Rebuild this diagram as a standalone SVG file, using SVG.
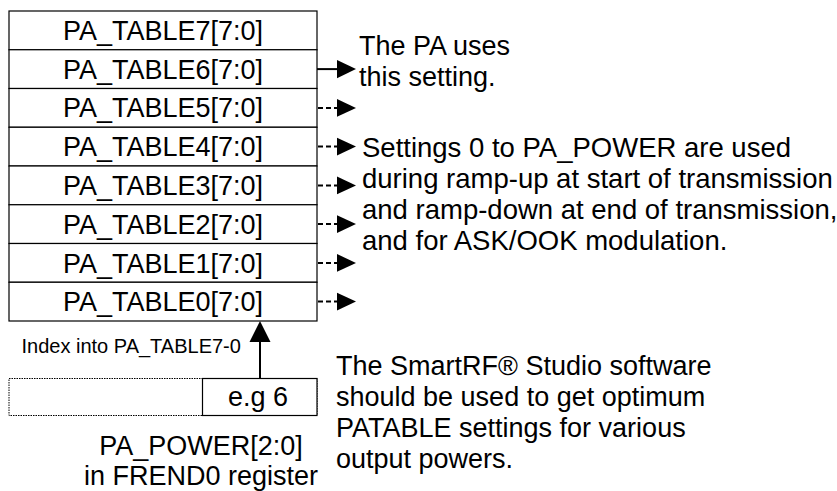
<svg xmlns="http://www.w3.org/2000/svg" width="837" height="491" viewBox="0 0 837 491">
<style>
text{font-family:"Liberation Sans",Arial,sans-serif;fill:#000}
.t{font-size:27px}
.u{font-size:27.5px}
.c{text-anchor:middle}
.s{font-size:20px}
.row{fill:#fff;stroke:#000;stroke-width:1.2}
.ar{stroke:#000;stroke-width:2;fill:none}
.da{stroke:#000;stroke-width:2;fill:none;stroke-dasharray:5 3}
.hd{fill:#000}
</style>
<rect width="837" height="491" fill="#fff"/>
<g id="table">
<g id="row7"><rect class="row" x="9" y="11" width="308" height="38.75"/><text class="t c" x="163" y="39.9">PA_TABLE7[7:0]</text></g>
<g id="row6"><rect class="row" x="9" y="49.75" width="308" height="38.75"/><text class="t c" x="163" y="78.6">PA_TABLE6[7:0]</text></g>
<g id="row5"><rect class="row" x="9" y="88.5" width="308" height="38.75"/><text class="t c" x="163" y="117.4">PA_TABLE5[7:0]</text></g>
<g id="row4"><rect class="row" x="9" y="127.25" width="308" height="38.75"/><text class="t c" x="163" y="156.2">PA_TABLE4[7:0]</text></g>
<g id="row3"><rect class="row" x="9" y="166" width="308" height="38.75"/><text class="t c" x="163" y="194.9">PA_TABLE3[7:0]</text></g>
<g id="row2"><rect class="row" x="9" y="204.75" width="308" height="38.75"/><text class="t c" x="163" y="233.7">PA_TABLE2[7:0]</text></g>
<g id="row1"><rect class="row" x="9" y="243.5" width="308" height="38.75"/><text class="t c" x="163" y="272.5">PA_TABLE1[7:0]</text></g>
<g id="row0"><rect class="row" x="9" y="282.25" width="308" height="38.75"/><text class="t c" x="163" y="311.2">PA_TABLE0[7:0]</text></g>
</g>
<g id="register">
<rect x="9" y="378.5" width="308" height="37" fill="#fff" stroke="#000" stroke-width="1" stroke-dasharray="1.5 1"/>
<rect x="202.5" y="378.5" width="114.5" height="37" fill="#fff" stroke="#000" stroke-width="1.2"/>
<text class="t c" x="258" y="406">e.g 6</text>
</g>
<g id="connectors">
<line class="ar" x1="317" y1="69.1" x2="338" y2="69.1"/>
<polygon class="hd" points="337,60 356,69.1 337,78.2"/>
<line class="da" x1="318" y1="107.9" x2="338" y2="107.9"/>
<polygon class="hd" points="337,99 356,107.9 337,116.8"/>
<line class="da" x1="318" y1="146.6" x2="338" y2="146.6"/>
<polygon class="hd" points="337,137.7 356,146.6 337,155.5"/>
<line class="da" x1="318" y1="185.4" x2="338" y2="185.4"/>
<polygon class="hd" points="337,176.5 356,185.4 337,194.3"/>
<line class="da" x1="318" y1="224.1" x2="338" y2="224.1"/>
<polygon class="hd" points="337,215.2 356,224.1 337,233"/>
<line class="da" x1="318" y1="262.9" x2="338" y2="262.9"/>
<polygon class="hd" points="337,254 356,262.9 337,271.8"/>
<line class="da" x1="318" y1="301.6" x2="338" y2="301.6"/>
<polygon class="hd" points="337,292.7 356,301.6 337,310.5"/>
<line class="ar" x1="260" y1="378" x2="260" y2="340"/>
<polygon class="hd" points="260,321 270.5,342 249.5,342"/>
</g>
<g id="labels">
<text class="s" x="21.5" y="353">Index into PA_TABLE7-0</text>
<text class="t c" x="201" y="455">PA_POWER[2:0]</text>
<text class="t c" x="201" y="485">in FREND0 register</text>
<text class="t" x="359" y="55">The PA uses</text>
<text class="t" x="359" y="86">this setting.</text>
<text class="u" x="362" y="157">Settings 0 to PA_POWER are used</text>
<text class="u" x="362" y="188">during ramp-up at start of transmission</text>
<text class="u" x="362" y="219">and ramp-down at end of transmission,</text>
<text class="u" x="362" y="250">and for ASK/OOK modulation.</text>
<text class="t" x="336" y="375">The SmartRF® Studio software</text>
<text class="t" x="336" y="406">should be used to get optimum</text>
<text class="t" x="336" y="437">PATABLE settings for various</text>
<text class="t" x="336" y="468">output powers.</text>
</g>
</svg>
